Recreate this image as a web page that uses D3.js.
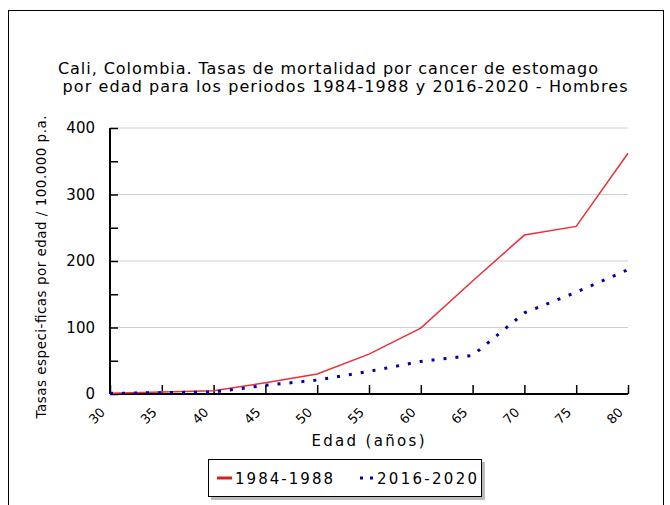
<!DOCTYPE html>
<html>
<head>
<meta charset="utf-8">
<script src="https://cdn.jsdelivr.net/npm/d3@7"></script>
<style>
  body { margin: 0; background: #fff; }
  svg text { font-family: "DejaVu Sans", Verdana, sans-serif; fill: #000; }
</style>
</head>
<body>
<svg width="670" height="505"></svg>
<script>
var svg = d3.select("svg"),
  width = +svg.attr("width"),
  height = +svg.attr("height");

// data
var ages = [30, 35, 40, 45, 50, 55, 60, 65, 70, 75, 80];
var rates1984 = [1, 3, 5, 17, 30, 60, 99, 170, 239, 252, 362];
var rates2016 = [1, 2, 3, 13, 21, 34, 49, 58, 122, 153, 187];
var yTicks = [0, 100, 200, 300, 400];
var seriesNames = ["1984-1988", "2016-2020"];

var margin = {left: 110, right: 42, top: 128, bottom: 111};

var x = d3.scaleLinear().domain([30, 80]).range([margin.left, width - margin.right]);
var y = d3.scaleLinear().domain([0, 400]).range([height - margin.bottom, margin.top]);

// outer frame
svg.append("rect")
  .attr("x", 8.5).attr("y", 10.5)
  .attr("width", 655).attr("height", 510)
  .attr("fill", "none").attr("stroke", "#000").attr("stroke-width", 1);

// title
var title = svg.append("g").attr("font-size", 16).attr("text-anchor", "middle");
title.append("text").attr("x", 328).attr("y", 74)
  .attr("textLength", 540).attr("lengthAdjust", "spacing")
  .text("Cali, Colombia. Tasas de mortalidad por cancer de estomago");
title.append("text").attr("x", 345).attr("y", 92)
  .attr("textLength", 565).attr("lengthAdjust", "spacing")
  .text("por edad para los periodos 1984-1988 y 2016-2020 - Hombres");

// grid
svg.append("g")
  .selectAll("line")
  .data(yTicks.slice(1))
  .enter().append("line")
  .attr("x1", x(30)).attr("x2", x(80))
  .attr("y1", function(d) { return y(d); })
  .attr("y2", function(d) { return y(d); })
  .attr("stroke", "#d0d0d0");

// y axis, ticks pointing inward
var yAxis = svg.append("g")
  .attr("transform", "translate(" + x(30) + ",0)")
  .call(d3.axisRight(y).tickValues(d3.range(0, 401, 50)).tickSize(8).tickFormat(""));
yAxis.select(".domain").attr("stroke-width", 2).attr("d", "M0," + y(0) + "V" + y(400));
yAxis.selectAll(".tick line").attr("stroke-width", 1.5);

svg.append("g")
  .attr("font-size", 15).attr("text-anchor", "end")
  .selectAll("text")
  .data(yTicks)
  .enter().append("text")
  .attr("x", 95)
  .attr("y", function(d) { return y(d) + 5; })
  .text(function(d) { return d; });

// x axis, ticks pointing up
var xAxis = svg.append("g")
  .attr("transform", "translate(0," + y(0) + ")")
  .call(d3.axisTop(x).tickValues(ages).tickSize(9).tickFormat(""));
xAxis.select(".domain").attr("stroke-width", 2).attr("d", "M" + x(30) + ",0H" + x(80));
xAxis.selectAll(".tick line").attr("stroke-width", 1.5);

svg.append("g")
  .attr("font-size", 13).attr("text-anchor", "middle")
  .selectAll("text")
  .data(ages)
  .enter().append("text")
  .attr("transform", function(d) {
    return "translate(" + (x(d) - 10) + "," + (y(0) + 25) + ") rotate(-45)";
  })
  .text(function(d) { return d; });

// axis titles
svg.append("text")
  .attr("x", 368).attr("y", 446)
  .attr("font-size", 15).attr("text-anchor", "middle")
  .attr("textLength", 113).attr("lengthAdjust", "spacing")
  .text("Edad (años)");

svg.append("text")
  .attr("transform", "translate(46,267) rotate(-90)")
  .attr("font-size", 13.5).attr("text-anchor", "middle")
  .attr("textLength", 303).attr("lengthAdjust", "spacing")
  .text("Tasas especi-ficas por edad / 100.000 p.a.");

// lines
var line = d3.line()
  .x(function(d, i) { return x(ages[i]); })
  .y(function(d) { return y(d); });

svg.append("path")
  .datum(rates1984)
  .attr("d", line)
  .attr("fill", "none")
  .attr("stroke", "#e8303a")
  .attr("stroke-width", 1.5);

svg.append("path")
  .datum(rates2016)
  .attr("d", line)
  .attr("fill", "none")
  .attr("stroke", "#0000b0")
  .attr("stroke-width", 3)
  .attr("stroke-dasharray", "3,9");

// legend
var legend = svg.append("g").attr("transform", "translate(208,459)");
legend.append("rect")
  .attr("x", 3).attr("y", 3).attr("width", 274).attr("height", 38)
  .attr("fill", "#bbb");
legend.append("rect")
  .attr("x", 0.5).attr("y", 0.5).attr("width", 273).attr("height", 37)
  .attr("fill", "#fff").attr("stroke", "#000");

legend.append("line")
  .attr("x1", 9).attr("x2", 24).attr("y1", 19).attr("y2", 19)
  .attr("stroke", "#d42020").attr("stroke-width", 3);
legend.append("text")
  .attr("x", 27).attr("y", 25).attr("font-size", 15)
  .attr("textLength", 98).attr("lengthAdjust", "spacing")
  .text(seriesNames[0]);

legend.append("line")
  .attr("x1", 152).attr("x2", 167).attr("y1", 19).attr("y2", 19)
  .attr("stroke", "#0000b0").attr("stroke-width", 3)
  .attr("stroke-dasharray", "3,7");
legend.append("text")
  .attr("x", 169).attr("y", 25).attr("font-size", 15)
  .attr("textLength", 100).attr("lengthAdjust", "spacing")
  .text(seriesNames[1]);
</script>
</body>
</html>
